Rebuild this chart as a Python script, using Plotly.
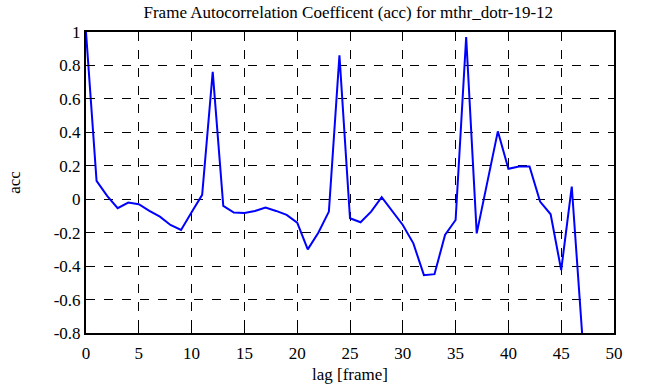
import plotly.graph_objects as go

lags = list(range(0, 48))
acc = [1.0, 0.11, 0.02, -0.054, -0.02, -0.03, -0.07, -0.104, -0.154, -0.184,
       -0.078, 0.026, 0.762, -0.04, -0.08, -0.082, -0.07, -0.05, -0.07, -0.094,
       -0.14, -0.30, -0.20, -0.074, 0.86, -0.114, -0.138, -0.074, 0.012, -0.074,
       -0.154, -0.264, -0.454, -0.448, -0.214, -0.124, 0.97, -0.204, 0.1, 0.406,
       0.182, 0.196, 0.196, -0.014, -0.09, -0.424, 0.076, -0.82]

x_ticks = [0, 5, 10, 15, 20, 25, 30, 35, 40, 45, 50]
y_ticks = [1, 0.8, 0.6, 0.4, 0.2, 0, -0.2, -0.4, -0.6, -0.8]
y_labels = ["1", "0.8", "0.6", "0.4", "0.2", "0", "-0.2", "-0.4", "-0.6", "-0.8"]

fig = go.Figure()
fig.add_trace(go.Scatter(x=lags, y=acc, mode="lines",
                         line=dict(color="#0000ff", width=2), showlegend=False))

font = dict(family="Liberation Serif, Times New Roman, serif", size=17, color="black")
axis_common = dict(showline=True, linecolor="black", linewidth=2, mirror="ticks",
                   ticks="inside", ticklen=6, tickwidth=1, tickcolor="black",
                   showgrid=True, gridcolor="black", griddash="dash", gridwidth=1,
                   zeroline=False, tickfont=font, automargin=False)

fig.update_layout(
    width=651, height=387,
    margin=dict(l=86, r=37, t=32, b=54),
    paper_bgcolor="white", plot_bgcolor="white",
    font=font,
    title=dict(text="Frame Autocorrelation Coefficent (acc) for mthr_dotr-19-12",
               x=0.535, xanchor="center", y=0.97, yanchor="middle",
               font=dict(family=font["family"], size=17, color="black")),
    xaxis=dict(range=[0, 50], tickvals=x_ticks, ticklabelstandoff=4,
               title=dict(text="lag [frame]", standoff=6, font=font), **axis_common),
    yaxis=dict(range=[-0.8, 1], tickvals=y_ticks, ticktext=y_labels,
               title=dict(text="acc", standoff=29, font=font), **axis_common),
)

fig.write_html("out.html", config={"displayModeBar": False},
               post_script="document.body.style.margin='0';")
